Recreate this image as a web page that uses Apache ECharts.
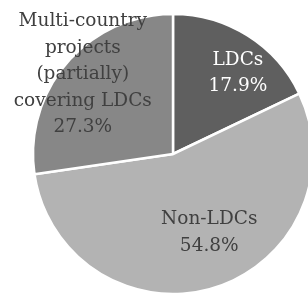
<!DOCTYPE html>
<html>
<head>
<meta charset="utf-8">
<script src="https://cdn.jsdelivr.net/npm/echarts@6/dist/echarts.min.js"></script>
<style>
  html, body { margin: 0; padding: 0; background: #fff; }
  #chart { width: 308px; height: 293px; }
</style>
</head>
<body>
<div id="chart"></div>
<script>
// shares of projects (%)
var names = ['LDCs', 'Non-LDCs', 'Multi-country\nprojects\n(partially)\ncovering LDCs'];
var values = [17.9, 54.8, 27.3];
var colors = ['#5f5f5f', '#b3b3b3', '#878787'];
var textColors = ['#ffffff', '#404040', '#404040'];
var offsets = [[26, -19], [15, 9], [-35, -32]];

var pieData = names.map(function (n, i) {
    return {
        name: n,
        value: values[i],
        itemStyle: { color: colors[i] },
        label: { color: textColors[i], offset: offsets[i] }
    };
});

var myChart = echarts.init(document.getElementById('chart'));
myChart.setOption({
    animation: false,
    series: [{
        type: 'pie',
        center: [173, 154],
        radius: [0, 140],
        startAngle: 90,
        clockwise: true,
        avoidLabelOverlap: false,
        itemStyle: { borderColor: '#fff', borderWidth: 2.5 },
        label: {
            show: true,
            position: 'inside',
            fontFamily: 'DejaVu Serif',
            fontSize: 18.5,
            lineHeight: 26.5,
            align: 'center',
            formatter: function (p) { return p.name + '\n' + p.value.toFixed(1) + '%'; }
        },
        labelLine: { show: false },
        data: pieData
    }]
});
</script>
</body>
</html>
